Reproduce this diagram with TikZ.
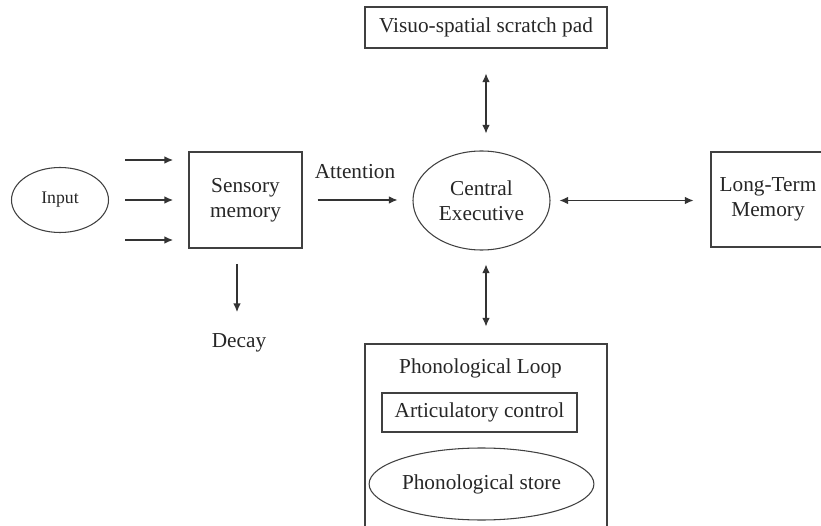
\documentclass[tikz,border=0pt]{standalone}
\usepackage{fontspec}
\setmainfont{Liberation Serif}
\usepackage{tikz}
\usetikzlibrary{arrows.meta,shapes.geometric,calc}
\newcommand{\unitpx}{0.564pt}
\tikzstyle{blk}=[rectangle, draw=black!75, line width=0.6pt, align=center,% plain box
text=black!85, font=\fontsize{12}{14}\selectfont, inner sep=0pt]
\tikzstyle{oval}=[ellipse, draw=black!75, line width=0.6pt, align=center,% plain ellipse
text=black!85, font=\fontsize{12}{14}\selectfont, inner sep=0pt]
\tikzstyle{lbl}=[text=black!85, font=\fontsize{12}{14}\selectfont, inner sep=0pt]
\tikzstyle{flow}=[-{Latex[length=4.8pt,width=4.2pt]}, line width=0.6pt, draw=black!80]
\tikzstyle{both}=[{Latex[length=4.8pt,width=4.2pt]}-{Latex[length=4.8pt,width=4.2pt]}, line width=0.6pt, draw=black!80]

\begin{document}
\begin{tikzpicture}[x=\unitpx, y=-\unitpx]
\useasboundingbox (0,0) rectangle (821,526);
\clip (0,0) rectangle (821,526);

\node[oval, minimum width=97*\unitpx, minimum height=65*\unitpx, font=\fontsize{10}{12}\selectfont] (input) at (60,200) {Input};
\node[blk, minimum width=113*\unitpx, minimum height=96*\unitpx] (sensory) at (245.5,200) {Sensory\\memory};
\node[lbl] (decay) at (239,343) {Decay};
\node[lbl] (attention) at (355,172) {Attention};
\node[oval, minimum width=137*\unitpx, minimum height=99*\unitpx] (central) at (481.5,200.5) {Central\\Executive};
\node[blk, minimum width=242*\unitpx, minimum height=41*\unitpx] (visuo) at (486,27.5) {Visuo-spatial scratch pad};
\node[blk, minimum width=114*\unitpx, minimum height=95*\unitpx] (ltm) at (768,199.5) {Long-Term\\Memory};

\node[blk, minimum width=242*\unitpx, minimum height=196*\unitpx] (phono) at (486,442) {};
\node[lbl] (loop) at (480.5,368) {Phonological Loop};
\node[blk, minimum width=195*\unitpx, minimum height=39*\unitpx] (artic) at (479.5,412.5) {Articulatory control};
\node[oval, minimum width=219*\unitpx, minimum height=72*\unitpx] (store) at (481.5,484) {Phonological store};

\foreach \i/\y in {1/160, 2/200, 3/240} {
  \coordinate (in\i) at (125,\y);
  \coordinate (sm\i) at (173,\y);
  \draw[flow] (in\i) -- (sm\i);
}

\coordinate (d1) at (237,264);
\coordinate (d2) at (237,312);
\draw[flow] (d1) -- (d2);

\draw[flow, shorten <=15*\unitpx, shorten >=15*\unitpx] (sensory.east) -- (sensory.east -| central.west);
\draw[both, shorten <=25*\unitpx, shorten >=17*\unitpx] (visuo.south) -- (visuo.south |- central.north);
\draw[both, shorten <=14*\unitpx, shorten >=17*\unitpx] (phono.north |- central.south) -- (phono.north);
\draw[both, shorten <=9*\unitpx, shorten >=17*\unitpx] (central.east) -- (central.east -| ltm.west);

\end{tikzpicture}
\end{document}
